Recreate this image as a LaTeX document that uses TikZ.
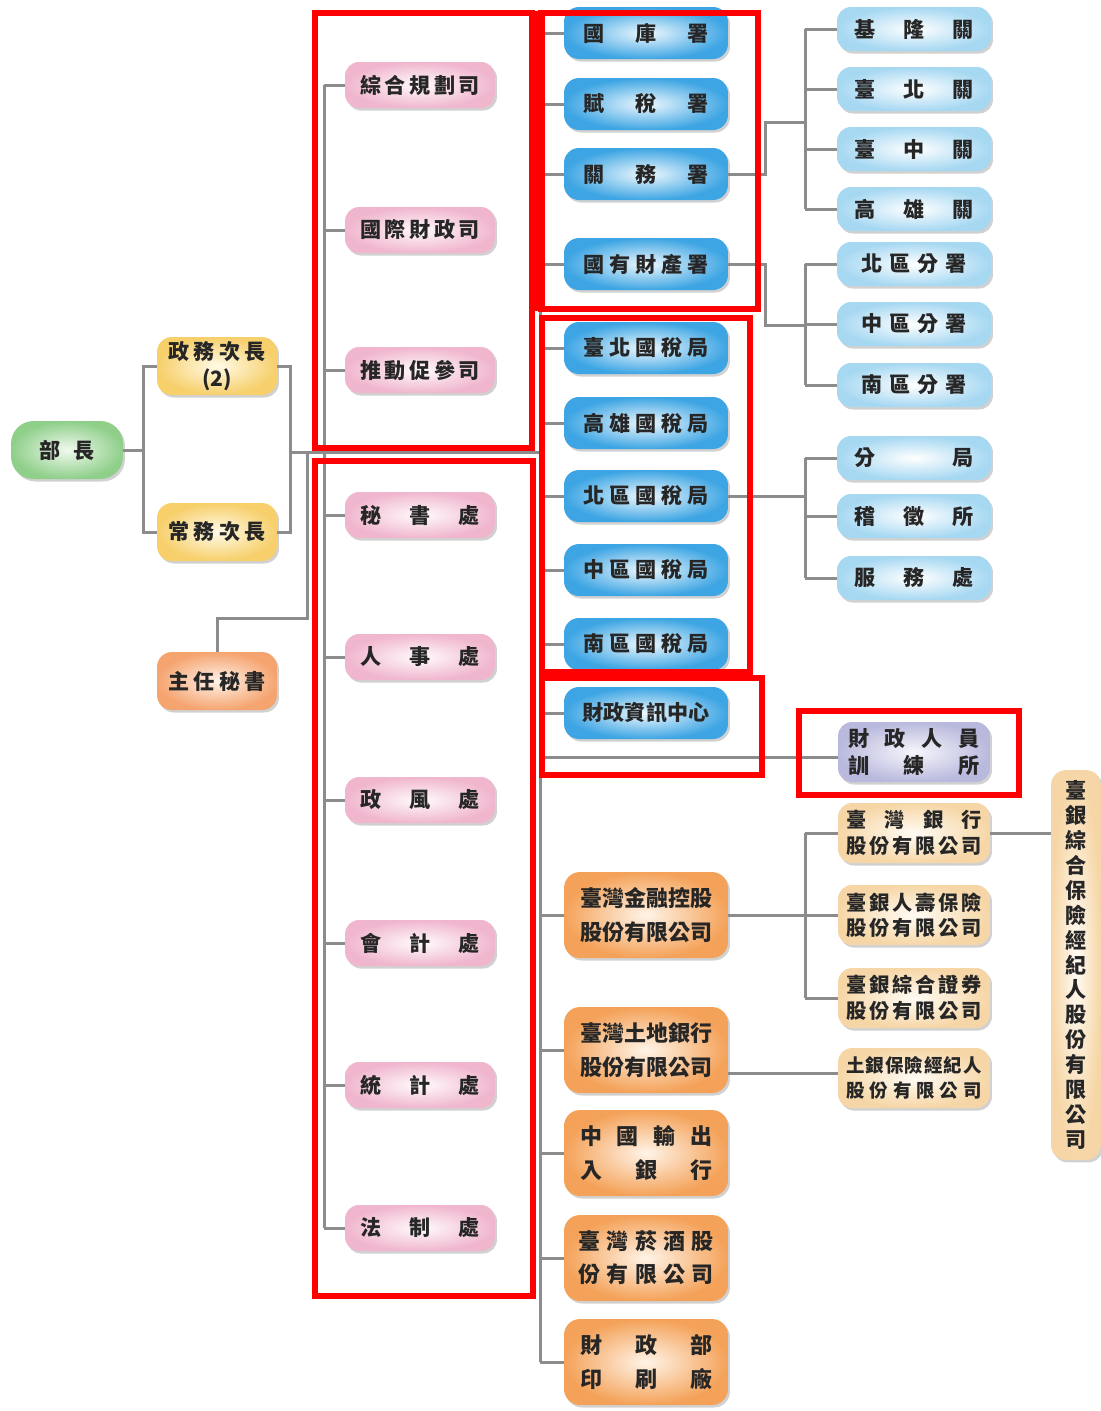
\documentclass[tikz,border=0pt]{standalone}
\usepackage{fontspec}
\newfontfamily\cjk{Noto Sans CJK TC}
\usetikzlibrary{shadows}
\newcommand{\jst}[2]{\makebox[#1][s]{#2}}
\definecolor{conncol}{HTML}{8C8C8C}
\definecolor{blueout}{HTML}{3DA5E3}
\definecolor{bluein}{HTML}{EEF8FE}
\definecolor{lbout}{HTML}{A6D8F2}
\definecolor{lbin}{HTML}{FFFFFF}
\definecolor{pinkout}{HTML}{F0B6CE}
\definecolor{pinkin}{HTML}{FFFAFC}
\definecolor{yelout}{HTML}{F7CF6B}
\definecolor{yelin}{HTML}{FFFBE8}
\definecolor{grnout}{HTML}{8FCF8A}
\definecolor{grnin}{HTML}{F0F9EE}
\definecolor{orout}{HTML}{F4A259}
\definecolor{orin}{HTML}{FFF4E8}
\definecolor{zrout}{HTML}{F5A470}
\definecolor{zrin}{HTML}{FFF2E8}
\definecolor{pcout}{HTML}{F6D6A6}
\definecolor{pcin}{HTML}{FFFBF4}
\definecolor{lvout}{HTML}{B9B9DD}
\definecolor{lvin}{HTML}{F6F6FC}
\definecolor{annot}{HTML}{FF0000}
\begin{document}
\begin{tikzpicture}[x=0.02cm,y=-0.02cm,
  box/.style={rounded corners=0.28cm, align=center, inner sep=0pt, text=black!85,
    font=\cjk\bfseries\fontsize{12}{14}\selectfont,
    drop shadow={shadow xshift=0.04cm, shadow yshift=-0.05cm, opacity=0.3, fill=black!60}},
  green/.style={box, rounded corners=0.45cm, minimum width=2.24cm, minimum height=1.16cm, inner color=grnin, outer color=grnout},
  yel/.style={box, rounded corners=0.3cm, minimum width=2.4cm, minimum height=1.16cm, inner color=yelin, outer color=yelout, font=\cjk\bfseries\fontsize{12}{15}\selectfont},
  zrs/.style={box, rounded corners=0.3cm, minimum width=2.4cm, minimum height=1.16cm, inner color=zrin, outer color=zrout},
  pink/.style={box, minimum width=3.0cm, minimum height=0.92cm, inner color=pinkin, outer color=pinkout},
  blueM/.style={box, rounded corners=0.3cm, minimum width=3.28cm, minimum height=1.04cm, inner color=bluein, outer color=blueout},
  blueR/.style={box, minimum width=3.08cm, minimum height=0.88cm, inner color=lbin, outer color=lbout},
  orM/.style={box, rounded corners=0.32cm, minimum width=3.28cm, minimum height=1.72cm, inner color=orin, outer color=orout, font=\cjk\bfseries\fontsize{12.5}{19}\selectfont},
  pcR/.style={box, minimum width=3.04cm, minimum height=1.2cm, inner color=pcin, outer color=pcout, font=\cjk\bfseries\fontsize{11.5}{14.5}\selectfont},
  lvR/.style={box, minimum width=3.04cm, minimum height=1.2cm, inner color=lvin, outer color=lvout, font=\cjk\bfseries\fontsize{12}{15.5}\selectfont},
  tall/.style={box, rounded corners=0.3cm, minimum width=1.0cm, minimum height=7.8cm, inner color=pcin, outer color=pcout, font=\cjk\bfseries\fontsize{12}{14.2}\selectfont},
  conn/.style={draw=conncol, line width=0.06cm},
  redbox/.style={draw=annot, line width=0.12cm}
]
\useasboundingbox (0,0) rectangle (1101,1411);

% ---------- left ----------
\node[green] (bz) at (67,450) {\jst{1.1cm}{部\hfill 長}};
\node[yel] (zw) at (217,366) {\jst{1.94cm}{政\hfill 務\hfill 次\hfill 長}\\(2)};
\node[yel] (cw) at (217,532) {\jst{1.94cm}{常\hfill 務\hfill 次\hfill 長}};
\node[zrs] (zr) at (217,681) {\jst{1.94cm}{主\hfill 任\hfill 秘\hfill 書}};

% ---------- pink ----------
\node[pink] (p1) at (420,85) {\jst{2.4cm}{綜\hfill 合\hfill 規\hfill 劃\hfill 司}};
\node[pink] (p2) at (420,230) {\jst{2.4cm}{國\hfill 際\hfill 財\hfill 政\hfill 司}};
\node[pink] (p3) at (420,370) {\jst{2.4cm}{推\hfill 動\hfill 促\hfill 參\hfill 司}};
\node[pink] (p4) at (420,515) {\jst{2.4cm}{秘\hfill 書\hfill 處}};
\node[pink] (p5) at (420,657) {\jst{2.4cm}{人\hfill 事\hfill 處}};
\node[pink] (p6) at (420,800) {\jst{2.4cm}{政\hfill 風\hfill 處}};
\node[pink] (p7) at (420,943) {\jst{2.4cm}{會\hfill 計\hfill 處}};
\node[pink] (p8) at (420,1085) {\jst{2.4cm}{統\hfill 計\hfill 處}};
\node[pink] (p9) at (420,1228) {\jst{2.4cm}{法\hfill 制\hfill 處}};

% ---------- blue middle ----------
\node[blueM] (b1) at (646,33) {\jst{2.5cm}{國\hfill 庫\hfill 署}};
\node[blueM] (b2) at (646,104) {\jst{2.5cm}{賦\hfill 稅\hfill 署}};
\node[blueM] (b3) at (646,174) {\jst{2.5cm}{關\hfill 務\hfill 署}};
\node[blueM] (b4) at (646,264) {\jst{2.5cm}{國\hfill 有\hfill 財\hfill 產\hfill 署}};
\node[blueM] (b5) at (646,348) {\jst{2.5cm}{臺\hfill 北\hfill 國\hfill 稅\hfill 局}};
\node[blueM] (b6) at (646,423) {\jst{2.5cm}{高\hfill 雄\hfill 國\hfill 稅\hfill 局}};
\node[blueM] (b7) at (646,496) {\jst{2.5cm}{北\hfill 區\hfill 國\hfill 稅\hfill 局}};
\node[blueM] (b8) at (646,570) {\jst{2.5cm}{中\hfill 區\hfill 國\hfill 稅\hfill 局}};
\node[blueM] (b9) at (646,644) {\jst{2.5cm}{南\hfill 區\hfill 國\hfill 稅\hfill 局}};
\node[blueM] (b10) at (646,713) {\jst{2.56cm}{財\hfill 政\hfill 資\hfill 訊\hfill 中\hfill 心}};

% ---------- orange middle ----------
\node[orM] (o1) at (646,915) {\jst{2.64cm}{臺\hfill 灣\hfill 金\hfill 融\hfill 控\hfill 股}\\\jst{2.64cm}{股\hfill 份\hfill 有\hfill 限\hfill 公\hfill 司}};
\node[orM] (o2) at (646,1050) {\jst{2.64cm}{臺\hfill 灣\hfill 土\hfill 地\hfill 銀\hfill 行}\\\jst{2.64cm}{股\hfill 份\hfill 有\hfill 限\hfill 公\hfill 司}};
\node[orM] (o3) at (646,1153) {\jst{2.64cm}{中\hfill 國\hfill 輸\hfill 出}\\\jst{2.64cm}{入\hfill 銀\hfill 行}};
\node[orM] (o4) at (646,1258) {\jst{2.7cm}{臺\hfill 灣\hfill 菸\hfill 酒\hfill 股}\\\jst{2.7cm}{份\hfill 有\hfill 限\hfill 公\hfill 司}};
\node[orM] (o5) at (646,1362) {\jst{2.64cm}{財\hfill 政\hfill 部}\\\jst{2.64cm}{印\hfill 刷\hfill 廠}};

% ---------- right blue ----------
\node[blueR] (r1) at (914,29) {\jst{2.4cm}{基\hfill 隆\hfill 關}};
\node[blueR] (r2) at (914,89) {\jst{2.4cm}{臺\hfill 北\hfill 關}};
\node[blueR] (r3) at (914,149) {\jst{2.4cm}{臺\hfill 中\hfill 關}};
\node[blueR] (r4) at (914,209) {\jst{2.4cm}{高\hfill 雄\hfill 關}};
\node[blueR] (r5) at (914,264) {\jst{2.1cm}{北\hfill 區\hfill 分\hfill 署}};
\node[blueR] (r6) at (914,324) {\jst{2.1cm}{中\hfill 區\hfill 分\hfill 署}};
\node[blueR] (r7) at (914,385) {\jst{2.1cm}{南\hfill 區\hfill 分\hfill 署}};
\node[blueR] (r8) at (914,458) {\jst{2.4cm}{分\hfill 局}};
\node[blueR] (r9) at (914,516) {\jst{2.4cm}{稽\hfill 徵\hfill 所}};
\node[blueR] (r10) at (914,578) {\jst{2.4cm}{服\hfill 務\hfill 處}};

% ---------- right others ----------
\node[lvR] (xl) at (914,752) {\jst{2.64cm}{財\hfill 政\hfill 人\hfill 員}\\\jst{2.64cm}{訓\hfill 練\hfill 所}};
\node[pcR] (q1) at (914,833) {\jst{2.7cm}{臺\hfill 灣\hfill 銀\hfill 行}\\\jst{2.7cm}{股\hfill 份\hfill 有\hfill 限\hfill 公\hfill 司}};
\node[pcR] (q2) at (914,915) {\jst{2.7cm}{臺\hfill 銀\hfill 人\hfill 壽\hfill 保\hfill 險}\\\jst{2.7cm}{股\hfill 份\hfill 有\hfill 限\hfill 公\hfill 司}};
\node[pcR] (q3) at (914,998) {\jst{2.7cm}{臺\hfill 銀\hfill 綜\hfill 合\hfill 證\hfill 券}\\\jst{2.7cm}{股\hfill 份\hfill 有\hfill 限\hfill 公\hfill 司}};
\node[pcR, font=\cjk\bfseries\fontsize{10.5}{14.5}\selectfont] (q4) at (914,1078) {\jst{2.7cm}{土\hfill 銀\hfill 保\hfill 險\hfill 經\hfill 紀\hfill 人}\\\jst{2.7cm}{股\hfill 份\hfill 有\hfill 限\hfill 公\hfill 司}};
\node[tall] (tl) at (1076,965) {臺\\銀\\綜\\合\\保\\險\\經\\紀\\人\\股\\份\\有\\限\\公\\司};

% ---------- junction coordinates ----------
\coordinate (c1) at (143,450);
\coordinate (c2) at (290,452);
\coordinate (c3) at (307,452);
\coordinate (c4) at (307,618);
\coordinate (c5) at (324,452);
\coordinate (c6) at (540,452);
\coordinate (k1) at (765,122);
\coordinate (k2) at (805,122);
\coordinate (k3) at (765,325);

% ---------- connectors ----------
\draw[conn] (bz.east) -- (c1);
\draw[conn] (zw.west) -| (c1) |- (cw.west);
\draw[conn] (zw.east) -| (c2) |- (cw.east);
\draw[conn] (c2) -- (c3) -- (c5) -- (c6);
\draw[conn] (c3) -- (c4) -| (zr.north);
% pink spine
\draw[conn] (p1.west -| c5) -- (p9.west -| c5);
\foreach \n in {p1,p2,p3,p4,p5,p6,p7,p8,p9} \draw[conn] (\n.west -| c5) -- (\n.west);
% middle spine
\draw[conn] (b1.west -| c6) -- (o5.west -| c6);
\foreach \n in {b1,b2,b3,b4,b5,b6,b7,b8,b9,b10,o1,o2,o3,o4,o5} \draw[conn] (\n.west -| c6) -- (\n.west);
\draw[conn] ([yshift=-0.1cm]c6 |- xl.west) -- ([yshift=-0.1cm]xl.west);
% customs
\draw[conn] (b3.east) -| (k1) -- (k2);
\draw[conn] (r1.west -| k2) -- (r4.west -| k2);
\foreach \n in {r1,r2,r3,r4} \draw[conn] (\n.west -| k2) -- (\n.west);
% national property
\draw[conn] (b4.east) -| (k3) -- (k3 -| k2);
\draw[conn] (r5.west -| k2) -- (r7.west -| k2);
\foreach \n in {r5,r6,r7} \draw[conn] (\n.west -| k2) -- (\n.west);
% north tax
\draw[conn] (b7.east) -- (b7.east -| k2);
\draw[conn] (r8.west -| k2) -- (r10.west -| k2);
\foreach \n in {r8,r9,r10} \draw[conn] (\n.west -| k2) -- (\n.west);
% financial holding
\draw[conn] (o1.east) -- (o1.east -| k2);
\draw[conn] (q1.west -| k2) -- (q3.west -| k2);
\foreach \n in {q1,q2,q3} \draw[conn] (\n.west -| k2) -- (\n.west);
\draw[conn] ([yshift=0.1cm]q4.west -| o2.east) -- ([yshift=0.1cm]q4.west);
\draw[conn] (q1.east) -- (q1.east -| tl.west);

% ---------- red annotation boxes ----------
\draw[redbox] (315,13) rectangle (532,448);
\draw[redbox] (315,461) rectangle (533,1296);
\draw[redbox] (541,13) rectangle (758,309);
\draw[annot, line width=0.24cm] (539,11) -- (539,311);
\draw[redbox] (542,318) rectangle (750,672);
\draw[redbox] (542,678) rectangle (762,775);
\draw[redbox] (799,711) rectangle (1019,795);
\end{tikzpicture}
\end{document}
